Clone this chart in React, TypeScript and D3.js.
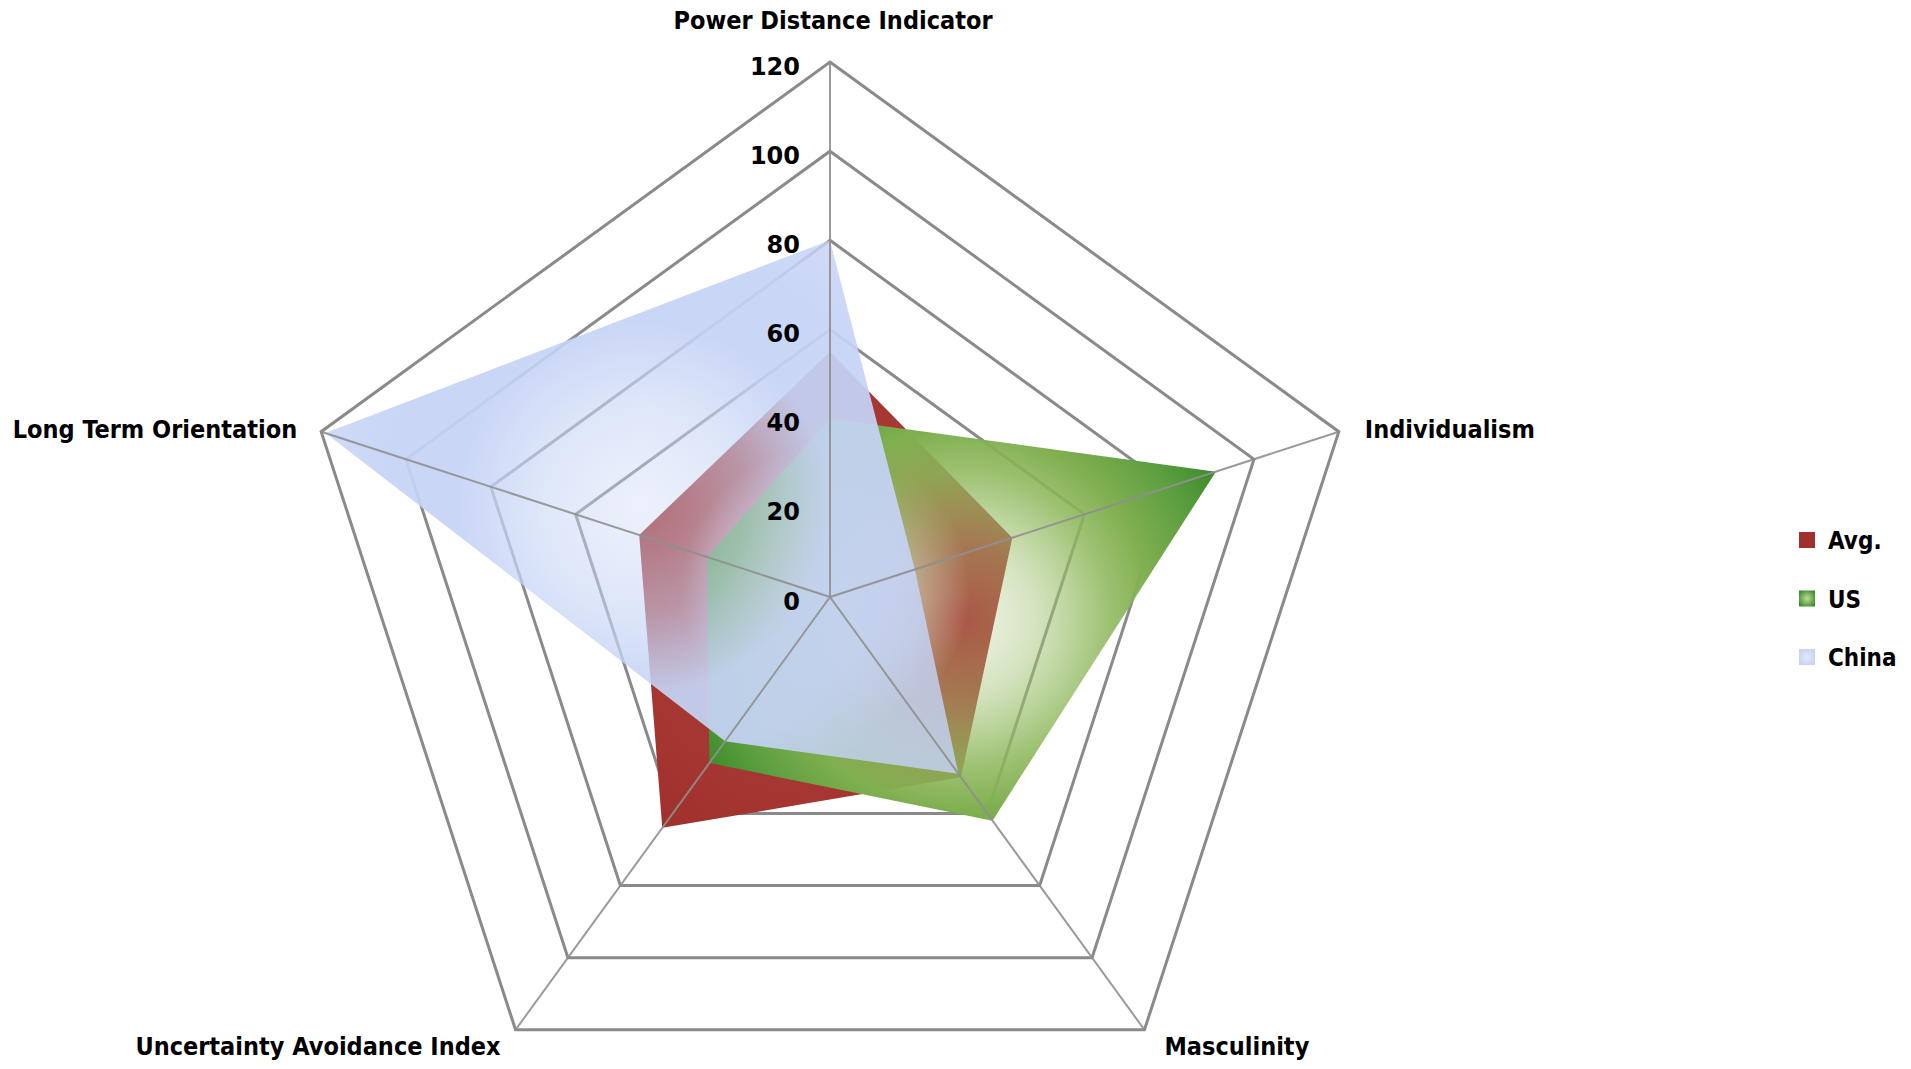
import React from 'react';
import * as d3 from 'd3';

// ---------- data ----------
const categories = [
  'Power Distance Indicator',
  'Individualism',
  'Masculinity',
  'Uncertainty Avoidance Index',
  'Long Term Orientation',
];
const seriesNames = ['Avg.', 'US', 'China'];
const avgValues = [55, 43, 50, 64, 45];
const usValues = [40, 91, 62, 46, 29];
const chinaValues = [80, 20, 49, 40, 119];
const tickValues = [0, 20, 40, 60, 80, 100, 120];

// ---------- layout / style ----------
const W = 1911;
const H = 1069;
const CX = 830;
const CY = 597;
const R = 535;

const rScale = d3.scaleLinear().domain([0, 120]).range([0, R]);
const aScale = d3.scaleLinear().domain([0, categories.length]).range([0, 2 * Math.PI]);
const line = d3.line<[number, number]>().curve(d3.curveLinearClosed);

const point = (i: number, v: number): [number, number] => [
  CX + rScale(v) * Math.sin(aScale(i)),
  CY - rScale(v) * Math.cos(aScale(i)),
];

type Stop = [number, string, number]; // offset, colour, opacity
const seriesStops: Stop[][] = [
  // Avg.
  [
    [0, '#e8d8dc', 1],
    [0.3, '#cf9b9e', 1],
    [0.5, '#a83a35', 1],
    [1, '#a0302b', 1],
  ],
  // US
  [
    [0, '#b0cb88', 0.2],
    [0.25, '#a2c274', 0.45],
    [0.5, '#8cb75a', 0.85],
    [0.65, '#80af4f', 1],
    [0.85, '#5a9d3f', 1],
    [1, '#3b8b29', 1],
  ],
  // China
  [
    [0, '#c8d5f5', 0.35],
    [0.12, '#c8d5f5', 0.45],
    [0.26, '#c6d4f5', 0.6],
    [0.45, '#c5d3f5', 0.93],
    [0.62, '#c5d3f5', 0.93],
    [0.78, '#c4d2f5', 0.82],
    [1, '#c4d2f5', 0.82],
  ],
];
const seriesIds = ['avg', 'us', 'china'];

const labelFont = "'DejaVu Sans Condensed', 'DejaVu Sans', sans-serif";
const tickFont = "'DejaVu Sans', sans-serif";

const labelPlacement = [
  { dx: 3, dy: -33, anchor: 'middle' },
  { dx: 26, dy: 6, anchor: 'start' },
  { dx: 20, dy: 25, anchor: 'start' },
  { dx: -15, dy: 25, anchor: 'end' },
  { dx: -24, dy: 6, anchor: 'end' },
];

function gradientGeometry(values: number[]) {
  const pts = values.map((v, i) => point(i, v));
  const xs = pts.map((p) => p[0]);
  const ys = pts.map((p) => p[1]);
  const cx = (d3.min(xs)! + d3.max(xs)!) / 2;
  const cy = (d3.min(ys)! + d3.max(ys)!) / 2;
  const r = d3.max(pts, (p) => Math.hypot(p[0] - cx, p[1] - cy))!;
  return { pts, cx, cy, r };
}

export default function App() {
  const ringLevels = tickValues.filter((v) => v > 0);
  const seriesValues = [avgValues, usValues, chinaValues];
  const geoms = seriesValues.map(gradientGeometry);

  return (
    <svg
      width={W}
      height={H}
      style={{ position: 'absolute', left: 0, top: 0, background: '#fff' }}
      xmlns="http://www.w3.org/2000/svg"
    >
      <defs>
        {geoms.map((g, k) => (
          <radialGradient
            key={seriesIds[k]}
            id={`grad-${seriesIds[k]}`}
            gradientUnits="userSpaceOnUse"
            cx={g.cx}
            cy={g.cy}
            r={g.r}
          >
            {seriesStops[k].map(([o, c, a]) => (
              <stop key={o} offset={o} stopColor={c} stopOpacity={a} />
            ))}
          </radialGradient>
        ))}
        <radialGradient id="legend-us" cx="50%" cy="50%" r="60%">
          <stop offset="0%" stopColor="#c2dc98" />
          <stop offset="100%" stopColor="#3b8b29" />
        </radialGradient>
        <radialGradient id="legend-china" cx="50%" cy="50%" r="60%">
          <stop offset="0%" stopColor="#e2e9fa" />
          <stop offset="100%" stopColor="#c4d2f4" />
        </radialGradient>
      </defs>
      <rect x={0} y={0} width={W} height={H} fill="#fff" />

      {/* rings */}
      <g fill="none" stroke="#8a8a8a" strokeWidth={3} strokeLinejoin="miter">
        {ringLevels.map((v) => (
          <path key={v} d={line(categories.map((_, i) => point(i, v)))!} />
        ))}
      </g>

      {/* series */}
      {geoms.map((g, k) => (
        <path key={seriesIds[k]} d={line(g.pts)!} fill={`url(#grad-${seriesIds[k]})`} />
      ))}

      {/* spokes */}
      <g stroke="#8f8f8f" strokeWidth={2} strokeOpacity={0.9}>
        {categories.map((_, i) => {
          const [x, y] = point(i, 120);
          return <line key={i} x1={CX} y1={CY} x2={x} y2={y} />;
        })}
      </g>

      {/* tick labels */}
      <g fontFamily={tickFont} fontWeight="bold" fontSize={24} fill="#000" textAnchor="end">
        {tickValues.map((v) => (
          <text key={v} x={CX - 30} y={CY - rScale(v) + 12.5}>
            {v}
          </text>
        ))}
      </g>

      {/* axis labels */}
      <g fontFamily={labelFont} fontWeight="bold" fontSize={25} fill="#000">
        {categories.map((name, i) => {
          const [x, y] = point(i, 120);
          const p = labelPlacement[i];
          return (
            <text key={name} x={x + p.dx} y={y + p.dy} textAnchor={p.anchor as any}>
              {name}
            </text>
          );
        })}
      </g>

      {/* legend */}
      <g fontFamily={labelFont} fontWeight="bold" fontSize={24} fill="#000">
        {seriesNames.map((name, k) => {
          const y = 540 + k * 58.5;
          const fill = k === 0 ? '#a0302b' : k === 1 ? 'url(#legend-us)' : 'url(#legend-china)';
          return (
            <g key={name}>
              <rect x={1799} y={y - 8} width={16} height={16} fill={fill} />
              <text x={1828} y={y + 9}>
                {name}
              </text>
            </g>
          );
        })}
      </g>
    </svg>
  );
}
